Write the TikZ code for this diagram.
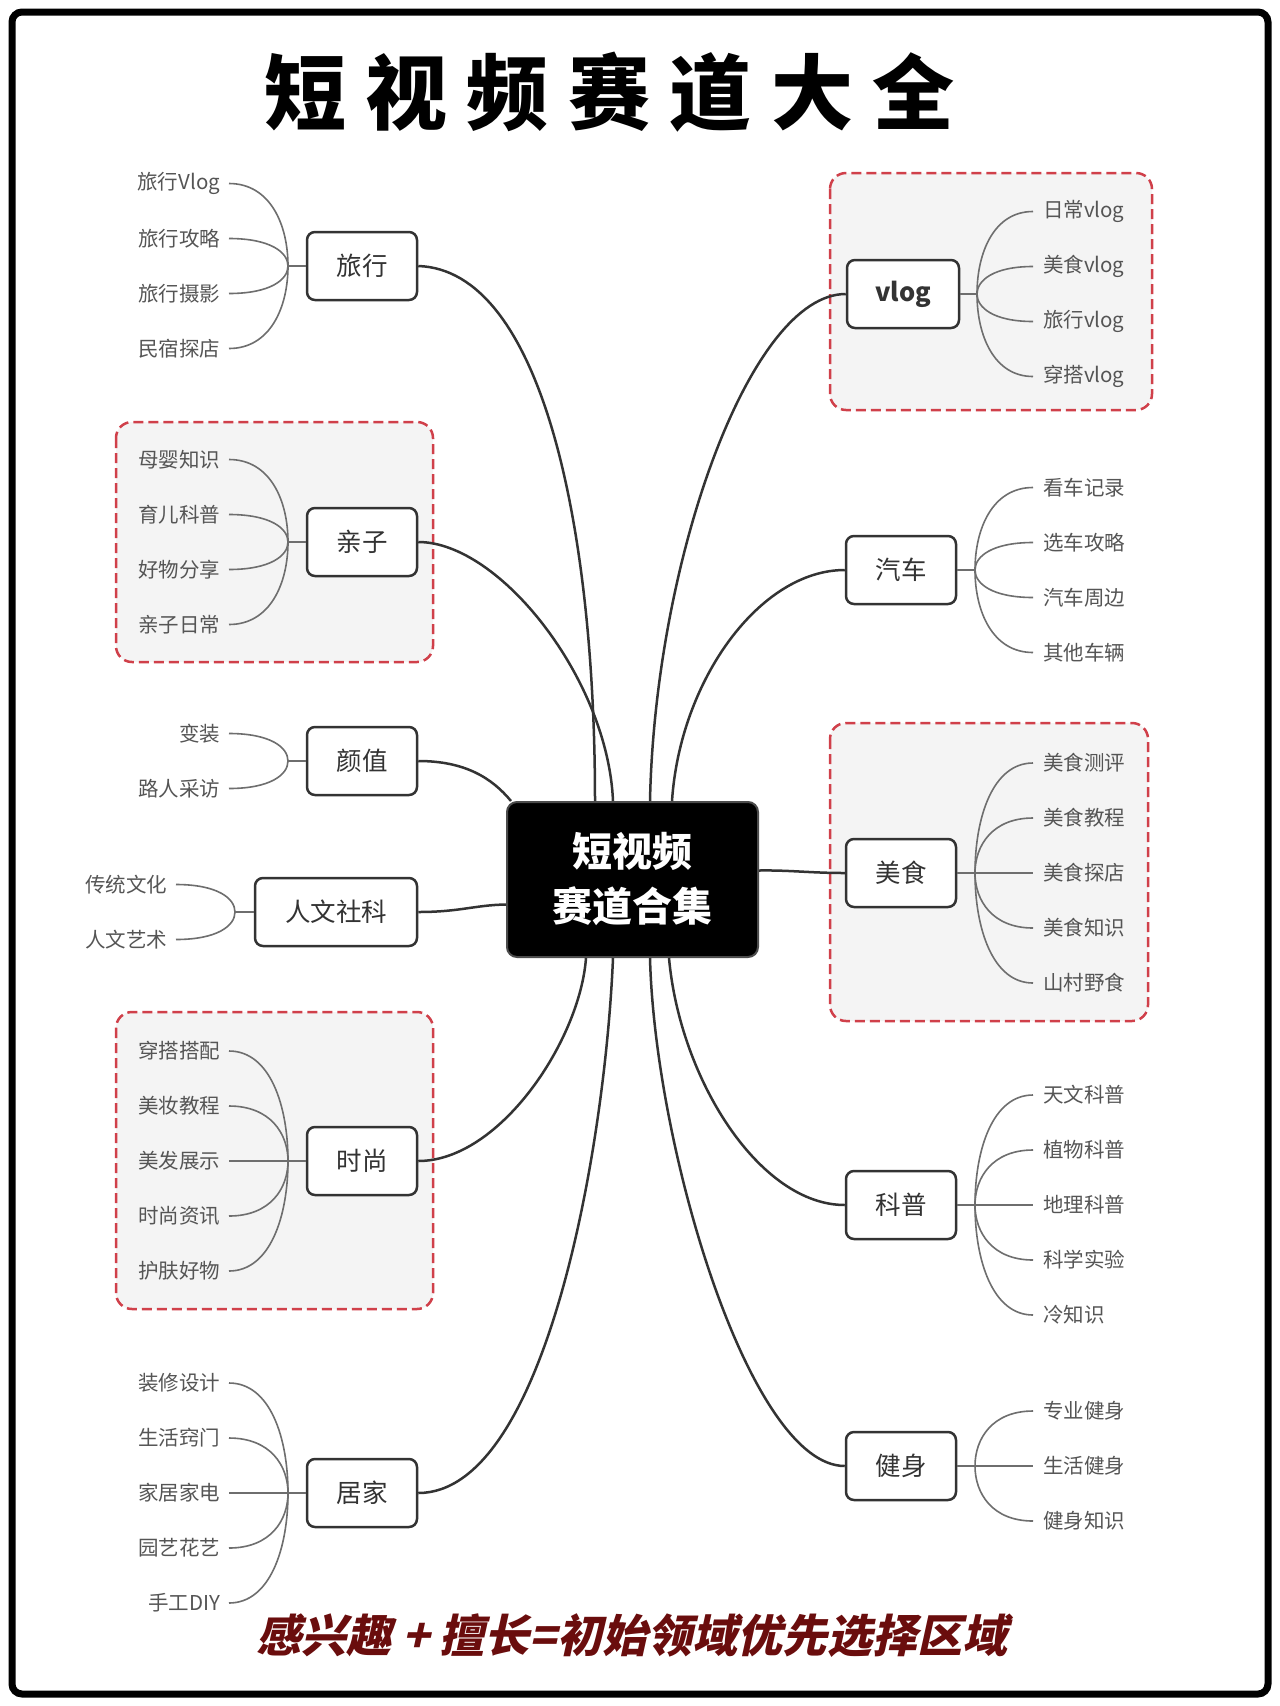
\documentclass[tikz,border=0pt]{standalone}
\usepackage{fontspec}
\setmainfont{Noto Sans CJK SC}
\newfontfamily\slfont{Noto Sans CJK SC}[FakeSlant=0.22]
\usetikzlibrary{calc}
\definecolor{linec}{HTML}{333333}
\definecolor{subc}{HTML}{6E6E6E}
\definecolor{textc}{HTML}{333333}
\definecolor{leafc}{HTML}{555555}
\definecolor{redc}{HTML}{D0404A}
\definecolor{groupfill}{HTML}{F4F4F4}
\definecolor{maroon}{HTML}{6A0D0D}
\newcommand\tsp{\hspace{19.5pt}}
\tikzset{
  mainbox/.style={draw=linec, line width=2.5pt, rounded corners=8pt, fill=white,
    minimum width=110pt, minimum height=68pt, inner sep=0pt, text=textc,
    font=\fontsize{25.5}{30}\selectfont},
  hubbox/.style={draw=black!70, line width=2pt, rounded corners=10pt, fill=black,
    minimum width=251pt, minimum height=155pt, text=white, align=center,
    font=\bfseries\fontsize{40}{55}\selectfont},
  leafL/.style={anchor=east, inner sep=0pt, outer xsep=9pt, text=leafc,
    font=\fontsize{20.5}{24}\selectfont},
  leafR/.style={anchor=west, inner sep=0pt, outer xsep=10pt, text=leafc,
    font=\fontsize{20.5}{24}\selectfont},
  groupframe/.style={draw=redc, line width=2.5pt, dash pattern=on 10pt off 5pt,
    rounded corners=16pt, fill=groupfill},
  conn/.style={draw=linec, line width=2.5pt},
  sub/.style={draw=subc, line width=1.6pt}
}
\newcommand\branchL[6]{%
  \coordinate (#1-j) at (#2,#4);
  \draw[sub] (#1.west) -- (#1-j);
  \foreach \t [count=\i] in {#6}{
    \node[leafL] (#1-\i) at (#3,{#4+(\i-(#5+1)/2)*55}) {\t};
    \draw[sub] (#1-j) .. controls ($(#1-j)!0.5!(#1-j |- #1-\i.east)$) and ($(#1-j |- #1-\i.east)!0.3!(#1-\i.east)$) .. (#1-\i.east);
  }%
}
\newcommand\branchR[6]{%
  \coordinate (#1-j) at (#2,#4);
  \draw[sub] (#1.east) -- (#1-j);
  \foreach \t [count=\i] in {#6}{
    \node[leafR] (#1-\i) at (#3,{#4+(\i-(#5+1)/2)*55}) {\t};
    \draw[sub] (#1-j) .. controls ($(#1-j)!0.5!(#1-j |- #1-\i.west)$) and ($(#1-j |- #1-\i.west)!0.3!(#1-\i.west)$) .. (#1-\i.west);
  }%
}
\begin{document}
\begin{tikzpicture}[x=1pt,y=-1pt]
\useasboundingbox (0,0) rectangle (1280,1706);
\fill[white] (0,0) rectangle (1280,1706);
\draw[line width=7pt, rounded corners=10pt] (12,12) rectangle (1268,1694);

% title
\node[font=\bfseries\fontsize{82}{90}\selectfont] (title) at (609.5,92)
  {短\tsp 视\tsp 频\tsp 赛\tsp 道\tsp 大\tsp 全};

% dashed group frames
\draw[groupframe] (830,173) rectangle (1152,410);
\draw[groupframe] (116,422) rectangle (433,662);
\draw[groupframe] (830,723) rectangle (1148,1021);
\draw[groupframe] (116,1012) rectangle (433,1309);

% hub
\node[hubbox] (hub) at (632.5,879.5) {短视频\\赛道合集};

% left main nodes
\node[mainbox] (lvx) at (362,266) {旅行};
\node[mainbox] (qz) at (362,542) {亲子};
\node[mainbox] (yz) at (362,761) {颜值};
\node[mainbox, minimum width=162pt] (rw) at (336,912) {人文社科};
\node[mainbox] (ss) at (362,1161) {时尚};
\node[mainbox] (jj) at (362,1493) {居家};

% right main nodes
\node[mainbox, minimum width=112pt, font=\bfseries\fontsize{25.5}{30}\selectfont] (vl) at (903,294) {vlog};
\node[mainbox] (qc) at (901,570) {汽车};
\node[mainbox] (ms) at (901,873) {美食};
\node[mainbox] (kp) at (901,1205) {科普};
\node[mainbox] (js) at (901,1466) {健身};

% main connectors
\draw[conn] (lvx.east) .. controls (540,270) and (595,520) .. ([xshift=-37.5pt]hub.north);
\draw[conn] (qz.east) .. controls (500,542) and (608,680) .. ([xshift=-19.5pt]hub.north);
\draw[conn] (yz.east) .. controls (465,761) and (492,778) .. ([xshift=5pt]hub.north west);
\draw[conn] (rw.east) .. controls (460,912) and (475,905) .. ([yshift=-25pt]hub.west);
\draw[conn] (ss.east) .. controls (500,1161) and (580,1040) .. ([xshift=-46.5pt]hub.south);
\draw[conn] (jj.east) .. controls (545,1493) and (605,1150) .. ([xshift=-19.5pt]hub.south);
\draw[conn] (vl.west) .. controls (750,294) and (655,560) .. ([xshift=17.5pt]hub.north);
\draw[conn] (qc.west) .. controls (760,570) and (680,680) .. ([xshift=39.5pt]hub.north);
\draw[conn] (ms.west) .. controls (810,873) and (790,870) .. ([yshift=9pt]hub.east);
\draw[conn] (kp.west) .. controls (760,1205) and (680,1080) .. ([xshift=36.5pt]hub.south);
\draw[conn] (js.west) .. controls (750,1466) and (655,1150) .. ([xshift=17.5pt]hub.south);

% leaves
\branchL{lvx}{288}{229}{266}{4}{旅行Vlog,旅行攻略,旅行摄影,民宿探店}
\branchL{qz}{288}{229}{542}{4}{母婴知识,育儿科普,好物分享,亲子日常}
\branchL{yz}{288}{229}{761}{2}{变装,路人采访}
\branchL{rw}{235}{176}{912}{2}{传统文化,人文艺术}
\branchL{ss}{288}{229}{1161}{5}{穿搭搭配,美妆教程,美发展示,时尚资讯,护肤好物}
\branchL{jj}{288}{229}{1493}{5}{装修设计,生活窍门,家居家电,园艺花艺,手工DIY}
\branchR{vl}{977}{1033}{294}{4}{日常vlog,美食vlog,旅行vlog,穿搭vlog}
\branchR{qc}{975}{1033}{570}{4}{看车记录,选车攻略,汽车周边,其他车辆}
\branchR{ms}{975}{1033}{873}{5}{美食测评,美食教程,美食探店,美食知识,山村野食}
\branchR{kp}{975}{1033}{1205}{5}{天文科普,植物科普,地理科普,科学实验,冷知识}
\branchR{js}{975}{1033}{1466}{3}{专业健身,生活健身,健身知识}

% motto
\node[text=maroon, font=\slfont\bfseries\fontsize{45}{50}\selectfont] (motto) at (632,1636)
  {感兴趣 + 擅长=初始领域优先选择区域};
\end{tikzpicture}
\end{document}
